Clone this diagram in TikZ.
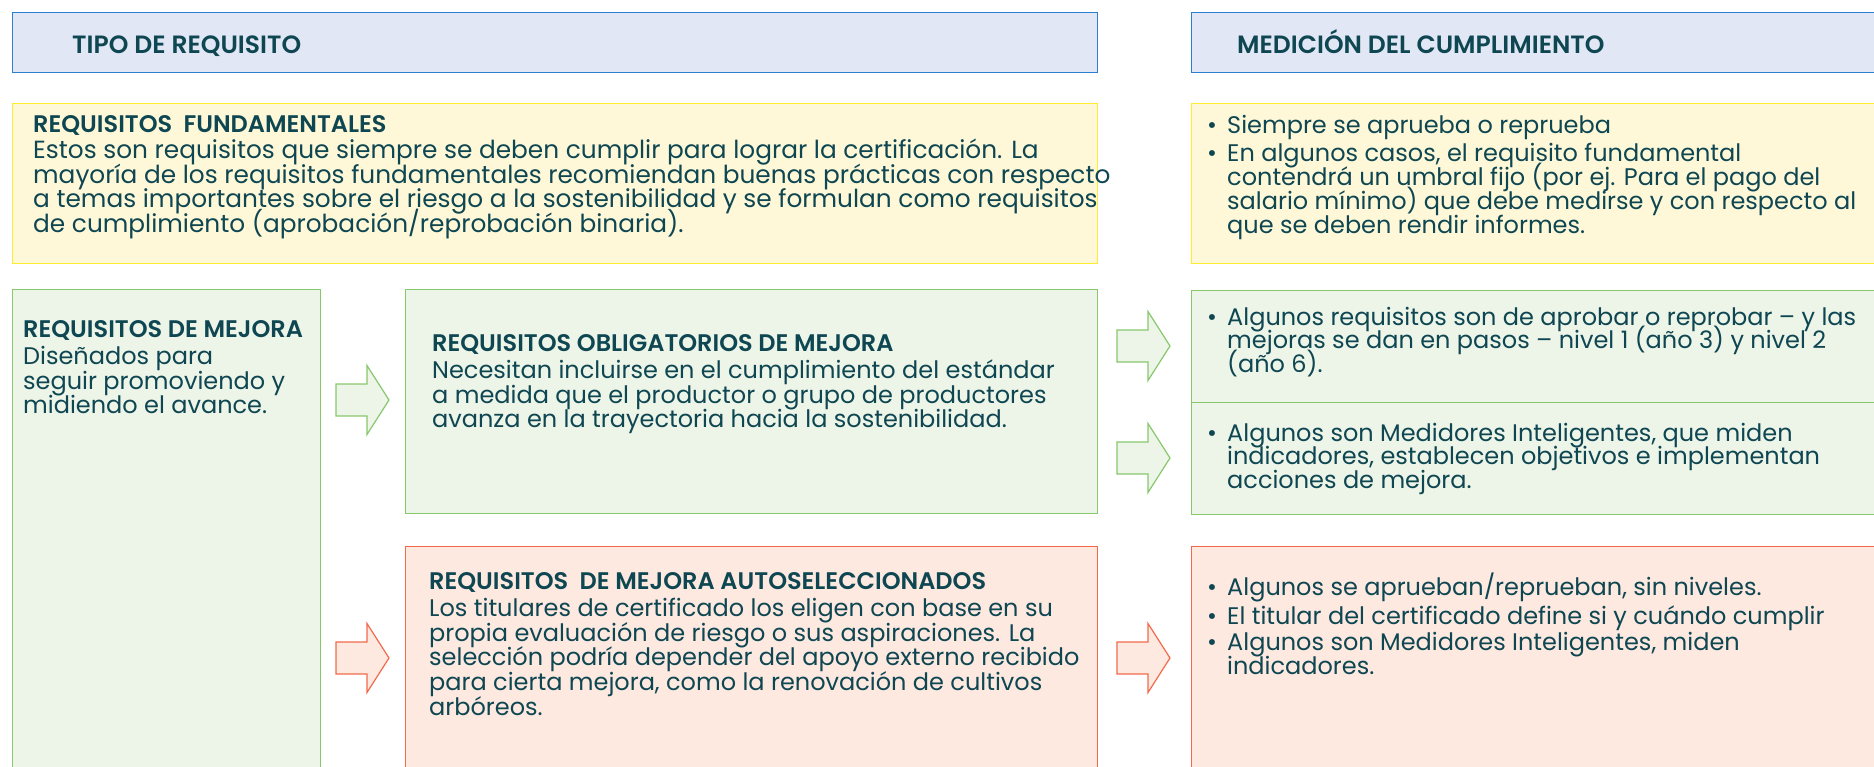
\documentclass[tikz,border=0pt]{standalone}
\usepackage{fontspec}
\setmainfont{Poppins}[BoldFont={Poppins SemiBold}]
\usetikzlibrary{positioning}

\definecolor{inkteal}{HTML}{0E4652}
\definecolor{hdrline}{HTML}{2A7FCF}
\definecolor{hdrfill}{HTML}{E1E7F5}
\definecolor{coreline}{HTML}{FFEC2E}
\definecolor{corefill}{HTML}{FEF8D8}
\definecolor{grnline}{HTML}{87C86C}
\definecolor{grnfill}{HTML}{EDF4E8}
\definecolor{redline}{HTML}{F26A4B}
\definecolor{redfill}{HTML}{FDE9E0}

\newcommand{\bul}{\makebox[20pt][l]{\textbullet}}
\newcommand{\ind}{\hspace*{20pt}}
\newcommand{\ttl}[1]{{\fontsize{24}{24.6}\selectfont\bfseries #1}}
\newcommand{\tightskip}{\lineskiplimit -40pt\relax}

\tikzset{
  box/.style={rectangle, anchor=north west, inner sep=0pt, line width=1.4pt},
  hdrbox/.style={box, draw=hdrline, fill=hdrfill},
  corebox/.style={box, draw=coreline, fill=corefill},
  grnbox/.style={box, draw=grnline, fill=grnfill},
  redbox/.style={box, draw=redline, fill=redfill},
  % anchor is the baseline of the last line
  txt/.style={anchor=base west, inner sep=0pt, align=left, text=inkteal,
    font=\fontsize{24}{24.6}\selectfont\tightskip},
  bigtxt/.style={txt, font=\fontsize{24.8}{24.6}\selectfont\tightskip},
  listtxt/.style={txt, font=\fontsize{24}{23.8}\selectfont\tightskip},
  hdrtxt/.style={txt, font=\fontsize{25}{25}\selectfont\bfseries},
  grnarrow/.style={draw=grnline, fill=grnfill, line width=1.2pt},
  redarrow/.style={draw=redline, fill=redfill, line width=1.2pt},
}

\begin{document}
\begin{tikzpicture}[x=1pt, y=-1pt]
  \clip (0,0) rectangle (1874,766);

  % headers
  \node[hdrbox, minimum width=1085, minimum height=60] (hdrL) at (12,12) {};
  \node[hdrbox, minimum width=700, minimum height=60] (hdrR) at (1191,12) {};
  \node[hdrtxt] (thdrL) at (72,53) {TIPO DE REQUISITO};
  \node[hdrtxt] (thdrR) at (1237,53) {MEDICIÓN DEL CUMPLIMIENTO};

  % requisitos fundamentales
  \node[corebox, minimum width=1085, minimum height=160] (core) at (12,103) {};
  \node[corebox, minimum width=700, minimum height=160] (medcore) at (1191,103) {};
  \node[bigtxt] (tcore) at (33,232.4) {\ttl{REQUISITOS\ \ FUNDAMENTALES}\\[2pt]
    Estos son requisitos que siempre se deben cumplir para lograr la certificación. La\\
    mayoría de los requisitos fundamentales recomiendan buenas prácticas con respecto\\
    a temas importantes sobre el riesgo a la sostenibilidad y se formulan como requisitos\\
    de cumplimiento (aprobación/reprobación binaria).};
  \node[listtxt] (tmedcore) at (1207,233.2) {\bul Siempre se aprueba o reprueba\\[5pt]
    \bul En algunos casos, el requisito fundamental\\
    \ind contendrá un umbral fijo (por ej. Para el pago del\\
    \ind salario mínimo) que debe medirse y con respecto al\\
    \ind que se deben rendir informes.};

  % requisitos de mejora
  \node[grnbox, minimum width=308, minimum height=500] (mejora) at (12,289) {};
  \node[txt] (tmejora) at (23,413.8) {\ttl{REQUISITOS DE MEJORA}\\[3pt]
    Diseñados para\\ seguir promoviendo y\\ midiendo el avance.};

  \node[grnbox, minimum width=692, minimum height=224] (oblig) at (405,289) {};
  \node[txt] (toblig) at (432,427.8) {\ttl{REQUISITOS OBLIGATORIOS DE MEJORA}\\[3pt]
    Necesitan incluirse en el cumplimiento del estándar\\
    a medida que el productor o grupo de productores\\
    avanza en la trayectoria hacia la sostenibilidad.};

  \node[redbox, minimum width=692, minimum height=240] (auto) at (405,546) {};
  \node[txt] (tauto) at (429,715) {\ttl{REQUISITOS\ \ DE MEJORA AUTOSELECCIONADOS}\\[3pt]
    Los titulares de certificado los eligen con base en su\\
    propia evaluación de riesgo o sus aspiraciones. La\\
    selección podría depender del apoyo externo recibido\\
    para cierta mejora, como la renovación de cultivos\\
    arbóreos.};

  % medicion de las mejoras
  \node[grnbox, minimum width=700, minimum height=112] (med1) at (1191,290) {};
  \node[grnbox, minimum width=700, minimum height=112] (med2) at (1191,402) {};
  \node[redbox, minimum width=700, minimum height=240] (medauto) at (1191,546) {};
  \node[listtxt] (tmed1) at (1207,372.6) {\bul Algunos requisitos son de aprobar o reprobar – y las\\
    \ind mejoras se dan en pasos – nivel 1 (año 3) y nivel 2\\
    \ind (año 6).};
  \node[listtxt] (tmed2) at (1207,488.6) {\bul Algunos son Medidores Inteligentes, que miden\\
    \ind indicadores, establecen objetivos e implementan\\
    \ind acciones de mejora.};
  \node[listtxt] (tmedauto) at (1207,674.4) {\bul Algunos se aprueban/reprueban, sin niveles.\\[6pt]
    \bul El titular del certificado define si y cuándo cumplir\\[2pt]
    \bul Algunos son Medidores Inteligentes, miden\\
    \ind indicadores.};

  % flechas
  \coordinate (ga1) at (336,400);
  \coordinate (ra1) at (336,658);
  \coordinate (ga2) at (1117,346);
  \coordinate (ga3) at (1117,458);
  \coordinate (ra2) at (1117,658);
  \foreach \a/\s in {ga1/grnarrow, ga2/grnarrow, ga3/grnarrow, ra1/redarrow, ra2/redarrow}
    \draw[\s] (\a) ++(0,-16) -- ++(31,0) -- ++(0,-18.5) -- ++(22,34.5)
      -- ++(-22,34.5) -- ++(0,-18.5) -- ++(-31,0) -- cycle;
\end{tikzpicture}
\end{document}
